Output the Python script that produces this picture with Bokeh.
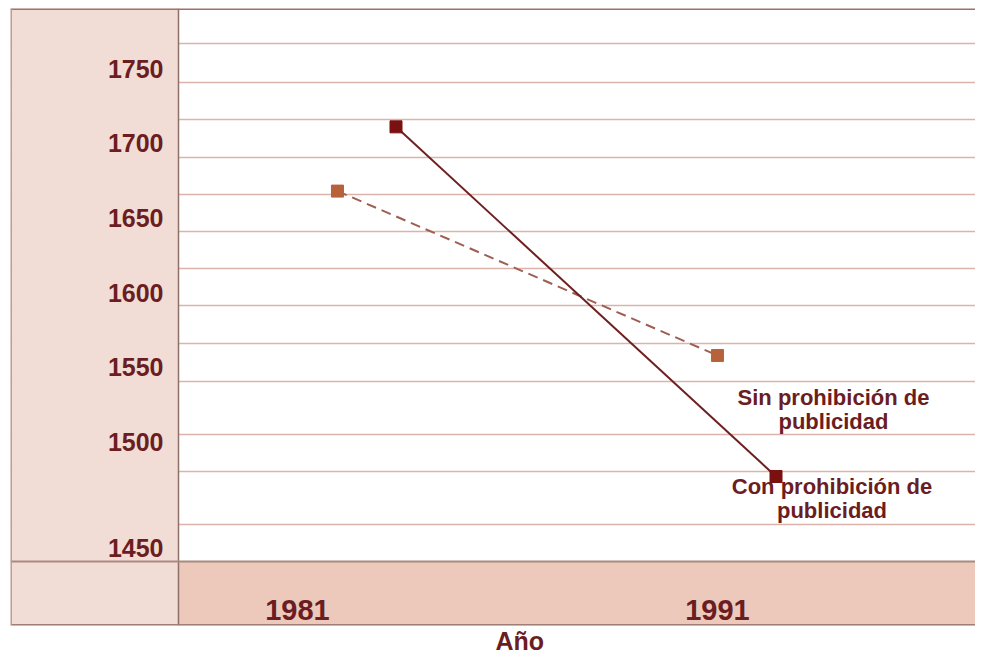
from bokeh.plotting import figure
from bokeh.models import Range1d, FixedTicker, ColumnDataSource, Span, Title
from bokeh.transform import dodge
from bokeh.core.properties import value
from bokeh.embed import file_html
from bokeh.resources import INLINE

# ---------------- data ----------------
YEARS = [1981, 1991]
CON_PROHIBICION = [1711, 1477]
SIN_PROHIBICION = [1668, 1558]
Y_TICK_LABELS = ["1750", "1700", "1650", "1600", "1550", "1500", "1450"]
YEAR_LABELS = ["1981", "1991"]
X_AXIS_TITLE = "Año"
CON_LABEL = "Con prohibición de\npublicidad"
SIN_LABEL = "Sin prohibición de\npublicidad"

# ---------------- layout / style ----------------
Y_TICK_POS = [1750, 1700, 1650, 1600, 1550, 1500, 1429]
GRID_Y = [1766.5, 1740.8, 1715.7, 1690.6, 1665.6, 1641.2, 1616.1, 1591.7,
          1566.0, 1540.9, 1505.3, 1480.2, 1444.6]
Y_START, Y_END = 1377.3, 1790.2        # whole chart box, including the year band
BAND_TOP = 1420.2                      # top of the year band
PANEL_EDGE = 1976.816                  # right edge of the left label panel
X_START, X_END = 1972.395, 1997.79
YX_START, YX_END = 1974.167, 1997.143  # scale used by the year labels
CON_SHIFT = 1.54

FONT = "Liberation Sans"
TEXT = "#6b1d22"
PINK = "#f2ddd6"
BAND = "#ecc9ba"
GRID = "#dcb3aa"
CON_COLOR = "#6e1f1f"
CON_MARK = "#7a1010"
SIN_COLOR = "#9e5e52"
SIN_MARK = "#b8623c"

p = figure(width=975, height=653, output_backend="svg", toolbar_location=None,
           x_range=Range1d(X_START, X_END), y_range=Range1d(Y_START, Y_END),
           x_axis_location=None, y_axis_location=None,
           min_border_left=10, min_border_right=0,
           min_border_top=8, min_border_bottom=0)
p.extra_x_ranges = {"years": Range1d(YX_START, YX_END)}
p.background_fill_color = "white"
p.border_fill_color = "white"
p.outline_line_color = None

p.xgrid.visible = False
p.ygrid.ticker = FixedTicker(ticks=GRID_Y)
p.ygrid.grid_line_color = GRID
p.ygrid.grid_line_width = 1.5

# label panel on the left and year band at the bottom
p.quad(left=X_START, right=PANEL_EDGE, bottom=Y_START, top=Y_END,
       fill_color=PINK, line_color=None)
p.quad(left=PANEL_EDGE, right=X_END, bottom=Y_START, top=BAND_TOP,
       fill_color=BAND, line_color=None)

p.add_layout(Span(location=PANEL_EDGE, dimension="height", line_color="#8f7068",
                  line_width=1.5))
p.add_layout(Span(location=BAND_TOP, dimension="width", line_color="#a88a80",
                  line_width=2))
p.add_layout(Span(location=Y_END, dimension="width", line_color="#a0706a",
                  line_width=3))
p.add_layout(Span(location=Y_START, dimension="width", line_color="#a07e74",
                  line_width=3))
p.add_layout(Span(location=X_START, dimension="height", line_color="#c09c92",
                  line_width=3))

# y tick labels
ytick_src = ColumnDataSource(dict(x=[PANEL_EDGE] * len(Y_TICK_POS), y=Y_TICK_POS,
                                  t=Y_TICK_LABELS))
p.text(x="x", y="y", text="t", source=ytick_src, x_offset=-15,
       text_align="right", text_baseline="middle", text_font=value(FONT),
       text_font_style="bold", text_font_size="25px", text_color=TEXT)

# year labels in the band
xtick_src = ColumnDataSource(dict(x=YEARS, y=[BAND_TOP] * len(YEARS), t=YEAR_LABELS))
p.text(x="x", y="y", text="t", source=xtick_src, x_range_name="years",
       y_offset=49, text_align="center", text_baseline="middle",
       text_font=value(FONT), text_font_style="bold", text_font_size="29px",
       text_color=TEXT)

# x axis title below the band
p.add_layout(Title(text=X_AXIS_TITLE, align="left", offset=485, standoff=-2,
                   text_font=FONT, text_font_style="bold",
                   text_font_size="25px", text_color=TEXT), "below")

# series
sin_src = ColumnDataSource(dict(x=YEARS, y=SIN_PROHIBICION))
con_src = ColumnDataSource(dict(x=YEARS, y=CON_PROHIBICION))

p.line(x="x", y="y", source=sin_src, line_color=SIN_COLOR, line_width=2,
       line_dash="10 6")
p.scatter(x="x", y="y", source=sin_src, marker="square", size=12,
          fill_color=SIN_MARK, line_color=SIN_MARK)
p.line(x=dodge("x", CON_SHIFT), y="y", source=con_src, line_color=CON_COLOR,
       line_width=2)
p.scatter(x=dodge("x", CON_SHIFT), y="y", source=con_src, marker="square",
          size=12, fill_color=CON_MARK, line_color=CON_MARK)

# series labels anchored at the last point of each series
sin_lab = ColumnDataSource(dict(x=YEARS[-1:], y=SIN_PROHIBICION[-1:], t=[SIN_LABEL]))
con_lab = ColumnDataSource(dict(x=YEARS[-1:], y=CON_PROHIBICION[-1:], t=[CON_LABEL]))
p.text(x="x", y="y", text="t", source=sin_lab, x_offset=116, y_offset=54,
       text_align="center", text_baseline="middle", text_font=value(FONT),
       text_font_style="bold", text_font_size="22px", text_color=TEXT,
       text_line_height=0.95)
p.text(x=dodge("x", CON_SHIFT), y="y", text="t", source=con_lab, x_offset=56,
       y_offset=22, text_align="center", text_baseline="middle",
       text_font=value(FONT), text_font_style="bold", text_font_size="22px",
       text_color=TEXT, text_line_height=0.95)

open("out.html", "w").write(file_html(p, INLINE))
